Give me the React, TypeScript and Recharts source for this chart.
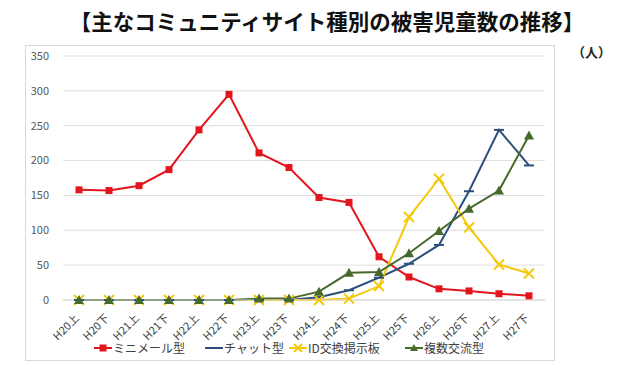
import React from "react";
import { LineChart, Line, XAxis, YAxis, CartesianGrid } from "recharts";

const categories = ["H20上","H20下","H21上","H21下","H22上","H22下","H23上","H23下","H24上","H24下","H25上","H25下","H26上","H26下","H27上","H27下"];
const miniMail = [158,157,164,187,244,295,211,190,147,140,62,33,16,13,9,6];
const chat = [0,0,0,0,0,0,0,0,4,14,32,52,79,156,244,193];
const idBoard = [0,0,0,0,0,0,0,0,0,2,20,119,174,104,51,38];
const multi = [0,0,0,0,0,0,2,2,12,39,40,67,99,131,157,236];
const yTicks = [0,50,100,150,200,250,300,350];
const seriesNames = ["ミニメール型","チャット型","ID交換掲示板","複数交流型"];

const RED = "#e3161d";
const BLUE = "#2b4f7e";
const YELLOW = "#f6c80a";
const GREEN = "#466a2c";

const data = categories.map((c, i) => ({ cat: c, a: miniMail[i], b: chat[i], c: idBoard[i], d: multi[i] }));

const FONT = "'Noto Sans CJK JP', 'Noto Sans', sans-serif";

const SquareDot = (p: any) => p.cx == null ? <g key={p.index} /> : (
  <rect key={p.index} x={p.cx - 3.5} y={p.cy - 3.5} width={7} height={7} fill={RED} />
);
const DashDot = (p: any) => p.cx == null ? <g key={p.index} /> : (
  <line key={p.index} x1={p.cx - 5} y1={p.cy} x2={p.cx + 5} y2={p.cy} stroke={BLUE} strokeWidth={2} />
);
const CrossDot = (p: any) => p.cx == null ? <g key={p.index} /> : (
  <g key={p.index}>
    <line x1={p.cx - 5} y1={p.cy - 5} x2={p.cx + 5} y2={p.cy + 5} stroke={YELLOW} strokeWidth={2} />
    <line x1={p.cx - 5} y1={p.cy + 5} x2={p.cx + 5} y2={p.cy - 5} stroke={YELLOW} strokeWidth={2} />
  </g>
);
const TriDot = (p: any) => p.cx == null ? <g key={p.index} /> : (
  <path key={p.index} d={`M${p.cx},${p.cy - 5} L${p.cx + 5},${p.cy + 4} L${p.cx - 5},${p.cy + 4} Z`} fill={GREEN} />
);

const XTick = (p: any) => {
  const { x, y, payload } = p;
  return (
    <g transform={`translate(${x - 2},${y + 8})`}>
      <text x={0} y={0} dy={4} textAnchor="end" transform="rotate(-45)" fontSize={11} fill="#404040" fontFamily={FONT}>
        {payload.value}
      </text>
    </g>
  );
};

const legendMarkers = [
  (cx: number) => <rect x={cx - 3.5} y={5.5} width={7} height={7} fill={RED} />,
  (cx: number) => null,
  (cx: number) => (
    <g>
      <line x1={cx - 4} y1={5} x2={cx + 4} y2={13} stroke={YELLOW} strokeWidth={2} />
      <line x1={cx - 4} y1={13} x2={cx + 4} y2={5} stroke={YELLOW} strokeWidth={2} />
    </g>
  ),
  (cx: number) => <path d={`M${cx},${5} L${cx + 4},${12} L${cx - 4},${12} Z`} fill={GREEN} />,
];
const legendColors = [RED, BLUE, YELLOW, GREEN];
const legendX = [94, 205, 289, 405];

export default function App() {
  return (
    <div style={{ position: "absolute", left: 0, top: 0, width: 620, height: 371, background: "#fff", fontFamily: FONT }}>
      <div style={{ position: "absolute", left: 0, top: 7, width: 654, textAlign: "center", fontSize: 21.5, fontWeight: 700, color: "#111", lineHeight: "28px", whiteSpace: "nowrap" }}>
        【主なコミュニティサイト種別の被害児童数の推移】
      </div>
      <div style={{ position: "absolute", left: 572, top: 42, fontSize: 13, fontWeight: 700, color: "#222" }}>（人）</div>
      <div style={{ position: "absolute", left: 25, top: 45, width: 530, height: 316, border: "1px solid #d9d9d9", boxSizing: "border-box" }} />
      <div style={{ position: "absolute", left: 0, top: 0 }}>
        <LineChart width={620} height={371} data={data} margin={{ top: 56, right: 75, left: 0, bottom: 0 }}>
          <CartesianGrid vertical={false} stroke="#dedede" />
          <XAxis dataKey="cat" tick={<XTick />} tickLine={false} axisLine={{ stroke: "#d9d9d9" }} height={71} interval={0} padding={{ left: 16, right: 16 }} />
          <YAxis domain={[0, 350]} ticks={yTicks} width={63} tickLine={false} axisLine={false}
            tick={{ fontSize: 11, fill: "#595959", fontFamily: FONT }} tickMargin={8} />
          <Line dataKey="a" name={seriesNames[0]} stroke={RED} strokeWidth={2} dot={SquareDot} isAnimationActive={false} />
          <Line dataKey="b" name={seriesNames[1]} stroke={BLUE} strokeWidth={2} dot={DashDot} isAnimationActive={false} />
          <Line dataKey="c" name={seriesNames[2]} stroke={YELLOW} strokeWidth={2} dot={CrossDot} isAnimationActive={false} />
          <Line dataKey="d" name={seriesNames[3]} stroke={GREEN} strokeWidth={2} dot={TriDot} isAnimationActive={false} />
        </LineChart>
      </div>
      {seriesNames.map((n, i) => (
        <div key={n} style={{ position: "absolute", left: legendX[i], top: 339, display: "flex", alignItems: "center", fontSize: 12, color: "#404040", lineHeight: "18px", whiteSpace: "nowrap" }}>
          <svg width={18} height={18}>
            <line x1={0} y1={9} x2={18} y2={9} stroke={legendColors[i]} strokeWidth={2} />
            {legendMarkers[i](9)}
          </svg>
          <span style={{ marginLeft: 1 }}>{n}</span>
        </div>
      ))}
    </div>
  );
}
